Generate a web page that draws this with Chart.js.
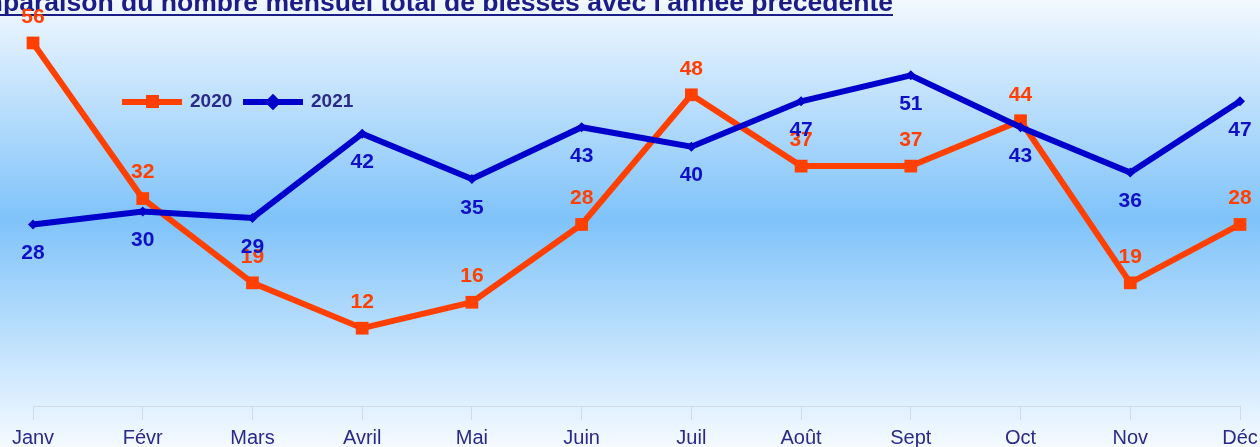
<!DOCTYPE html>
<html>
<head>
<meta charset="utf-8">
<script src="https://cdn.jsdelivr.net/npm/chart.js@4"></script>
<style>
  html, body { margin: 0; padding: 0; background: #fff; }
  #wrap { width: 1260px; height: 447px; position: relative; }
</style>
</head>
<body>
<div id="wrap"><canvas id="chart"></canvas></div>
<script>
// data
const months = ['Janv', 'Févr', 'Mars', 'Avril', 'Mai', 'Juin', 'Juil', 'Août', 'Sept', 'Oct', 'Nov', 'Déc'];
const values2020 = [56, 32, 19, 12, 16, 28, 48, 37, 37, 44, 19, 28];
const values2021 = [28, 30, 29, 42, 35, 43, 40, 47, 51, 43, 36, 47];
const title = "Comparaison du nombre mensuel total de blessés avec l'année précédente";

const orange = '#ff4000';
const blue = '#0000cc';

// background gradient + title
const backdrop = {
  id: 'backdrop',
  beforeDraw(chart) {
    const { ctx, width, height } = chart;
    const g = ctx.createLinearGradient(0, 0, 0, height);
    g.addColorStop(0, '#f2f8fe');
    g.addColorStop(0.49, '#7fc3fa');
    g.addColorStop(1, '#f5faff');
    ctx.save();
    ctx.fillStyle = g;
    ctx.fillRect(0, 0, width, height);
    ctx.restore();
  },
  afterDatasetsDraw(chart) {
    const ctx = chart.ctx;
    ctx.save();
    ctx.font = 'bold 26.55px "Liberation Sans", Arial, sans-serif';
    ctx.fillStyle = '#1c1c86';
    ctx.textAlign = 'right';
    ctx.textBaseline = 'alphabetic';
    const right = 893;
    ctx.fillText(title, right, 11);
    const w = ctx.measureText(title).width;
    ctx.fillRect(right - w, 14, w, 2);
    ctx.restore();
  }
};

// value labels: 2020 above, 2021 below
const valueLabels = {
  id: 'valueLabels',
  afterDatasetsDraw(chart) {
    const ctx = chart.ctx;
    ctx.save();
    ctx.font = 'bold 21px "Liberation Sans", Arial, sans-serif';
    ctx.textAlign = 'center';
    ctx.textBaseline = 'middle';
    chart.data.datasets.forEach((ds, i) => {
      const meta = chart.getDatasetMeta(i);
      const dy = i === 0 ? -26 : 29;
      ctx.fillStyle = i === 0 ? orange : '#1010c8';
      meta.data.forEach((pt, j) => {
        ctx.fillText(String(ds.data[j]), pt.x, pt.y + dy);
      });
    });
    ctx.restore();
  }
};

// legend drawn inside the plot
const innerLegend = {
  id: 'innerLegend',
  afterDraw(chart) {
    const ctx = chart.ctx;
    const y = 102;
    const items = [
      { x: 122, color: orange, label: '2020', marker: 'rect' },
      { x: 243, color: blue, label: '2021', marker: 'rectRot' }
    ];
    ctx.save();
    items.forEach(it => {
      ctx.strokeStyle = it.color;
      ctx.lineWidth = 6;
      ctx.beginPath();
      ctx.moveTo(it.x, y);
      ctx.lineTo(it.x + 60, y);
      ctx.stroke();
      ctx.fillStyle = it.color;
      if (it.marker === 'rect') {
        ctx.fillRect(it.x + 24, y - 7, 13, 13);
      } else {
        Chart.helpers.drawPoint(ctx, { pointStyle: 'rectRot', radius: 4, rotation: 0, borderWidth: 1 }, it.x + 30, y);
      }
      ctx.font = 'bold 19px "Liberation Sans", Arial, sans-serif';
      ctx.fillStyle = '#2a2a88';
      ctx.textAlign = 'left';
      ctx.textBaseline = 'middle';
      ctx.fillText(it.label, it.x + 68, y);
    });
    ctx.restore();
  }
};

const ctx = document.getElementById('chart');
new Chart(ctx, {
  type: 'line',
  data: {
    labels: months,
    datasets: [{
      label: '2020',
      data: values2020,
      borderColor: orange,
      backgroundColor: orange,
      borderWidth: 6,
      pointStyle: 'rect',
      pointRadius: 9,
      pointBorderWidth: 0,
      tension: 0,
      order: 1
    }, {
      label: '2021',
      data: values2021,
      borderColor: blue,
      backgroundColor: blue,
      borderWidth: 6,
      pointStyle: 'rectRot',
      pointRadius: 5,
      pointBorderWidth: 0,
      tension: 0,
      order: 0
    }]
  },
  options: {
    responsive: true,
    maintainAspectRatio: false,
    animation: false,
    layout: { padding: { left: 33, right: 20, top: 17, bottom: 0 } },
    plugins: {
      legend: { display: false },
      tooltip: { enabled: false }
    },
    scales: {
      x: {
        offset: false,
        grid: {
          drawOnChartArea: false,
          drawTicks: true,
          tickLength: 14,
          color: '#cfdce8'
        },
        border: { display: true, color: '#cfdce8', width: 1 },
        ticks: {
          color: '#2a2a88',
          font: { family: '"Liberation Sans", Arial, sans-serif', size: 20 },
          padding: 6,
          maxRotation: 0,
          autoSkip: false
        },
        afterFit(scale) {
          scale.height = 41;
          scale.paddingLeft = 0;
          scale.paddingRight = 0;
        }
      },
      y: {
        display: false,
        min: 0,
        max: 60
      }
    }
  },
  plugins: [backdrop, valueLabels, innerLegend]
});
</script>
</body>
</html>
